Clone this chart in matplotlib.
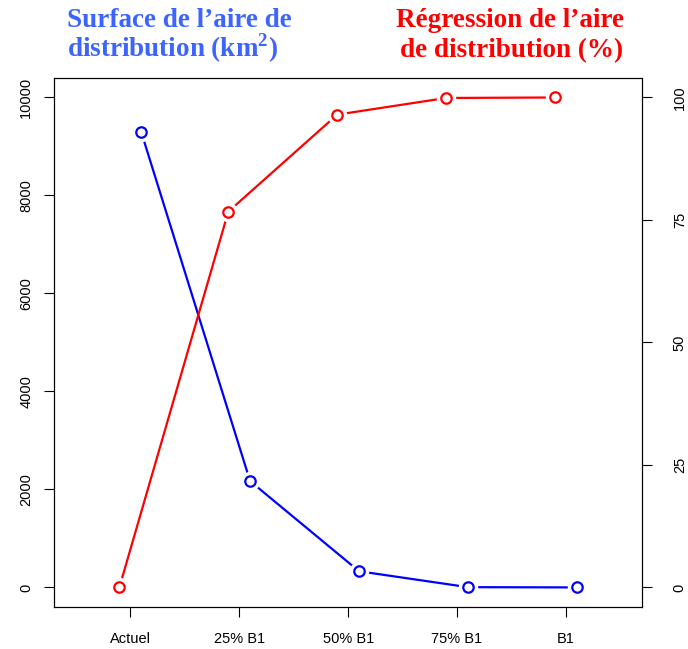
import matplotlib.pyplot as plt

# scenario labels and the two series
scenarios = ["Actuel", "25% B1", "50% B1", "75% B1", "B1"]
surface_km2 = [9300, 2170, 330, 5, 0]
regression_pct = [0, 76.7, 96.5, 99.9, 100]

left_ticks = [0, 2000, 4000, 6000, 8000, 10000]
right_ticks = [0, 25, 50, 75, 100]

BLUE = "#0000FF"
RED = "#FF0000"

plt.rcParams["font.family"] = ["Liberation Sans", "DejaVu Sans"]
plt.rcParams["mathtext.fontset"] = "custom"
plt.rcParams["mathtext.rm"] = "Liberation Serif:bold"
plt.rcParams["mathtext.bf"] = "Liberation Serif:bold"

fig = plt.figure(figsize=(6.88, 6.49), dpi=100)
ax = fig.add_axes([0.0785, 0.0647, 0.855, 0.8153])
ax2 = ax.twinx()

x = list(range(1, len(scenarios) + 1))
x_blue = [v + 0.1 for v in x]
x_red = [v - 0.1 for v in x]


def draw_b(axis, xs, ys, color):
    # R-style type="b": line broken around each open point
    axis.plot(xs, ys, color=color, lw=1.6, zorder=2, solid_capstyle="butt")
    axis.plot(xs, ys, ls="none", marker="o", ms=13, mfc="white", mec="white", zorder=3)
    axis.plot(xs, ys, ls="none", marker="o", ms=7.5, mfc="white", mec=color, mew=1.6, zorder=4)


draw_b(ax, x_blue, surface_km2, BLUE)
draw_b(ax2, x_red, regression_pct, RED)

ax.set_xlim(0.3, 5.7)
ax.set_ylim(-400, 10400)
ax2.set_ylim(-4, 104)

ax.set_xticks(x)
ax.set_xticklabels(scenarios)
ax.set_yticks(left_ticks)
ax.set_yticklabels([str(t) for t in left_ticks], rotation=90, va="center")
ax2.set_yticks(right_ticks)
ax2.set_yticklabels([str(t) for t in right_ticks], rotation=90, va="center")

for a in (ax, ax2):
    a.tick_params(length=7, width=0.8, labelsize=10.5, colors="black")
    for s in a.spines.values():
        s.set_linewidth(0.8)
ax.tick_params(axis="x", pad=11)
ax.tick_params(axis="y", pad=8)
ax2.tick_params(axis="y", pad=15)

# two-line headers, one text per line so both blocks share baselines
title_kw = dict(va="baseline", fontsize=19.5, fontweight="bold", family="Liberation Serif")
row1, row2 = 0.958, 0.912
fig.text(0.097, row1, "Surface de l’aire de", ha="left", color="#3C64FF", **title_kw)
fig.text(0.097, row2, "distribution (km$^2$)", ha="left", color="#3C64FF", **title_kw)
fig.text(0.741, row1, "Régression de l’aire", ha="center", color=RED, **title_kw)
fig.text(0.743, row2, "de distribution (%)", ha="center", color=RED, **title_kw)

fig.savefig("out.png", dpi=100)
